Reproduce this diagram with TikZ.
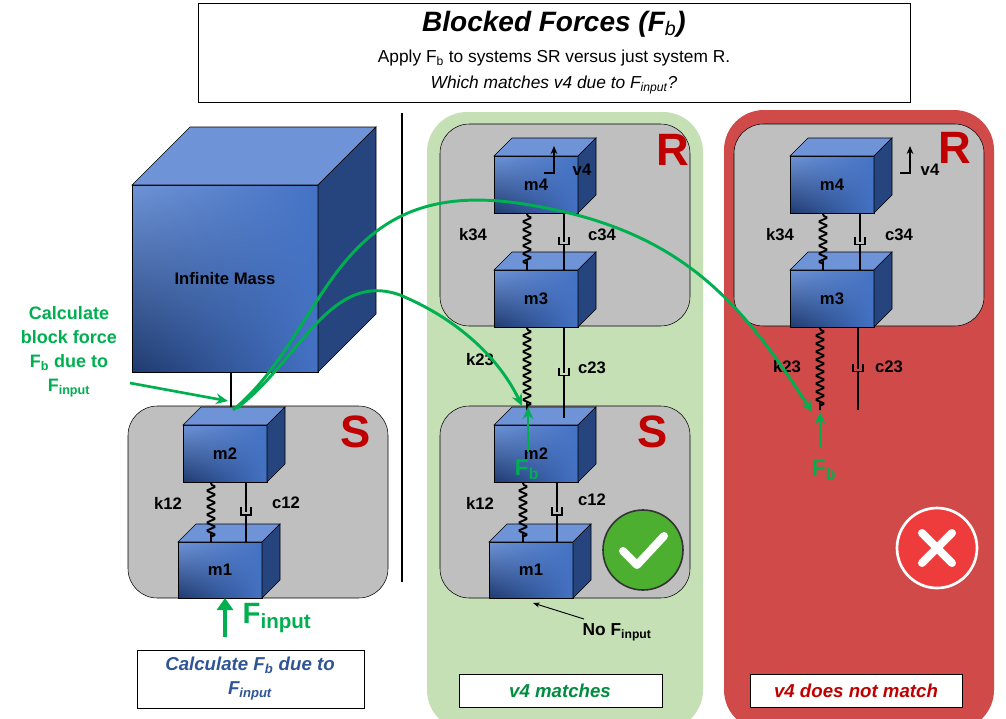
\documentclass[tikz,border=0pt]{standalone}
\usepackage{fontspec}
\setmainfont{Liberation Sans}
\usetikzlibrary{decorations.pathmorphing,arrows.meta,shadings}
\definecolor{gpanel}{HTML}{C5E0B4}
\definecolor{rpanel}{HTML}{D04A4A}
\definecolor{gbox}{HTML}{BFBFBF}
\definecolor{cb}{HTML}{4472C4}
\definecolor{cbl}{HTML}{6E93D6}
\definecolor{cbd}{HTML}{1F3A6E}
\definecolor{fg}{HTML}{00B050}
\definecolor{dred}{HTML}{C00000}
\definecolor{tblue}{HTML}{2F5597}
\definecolor{chk}{HTML}{4CAF30}
\definecolor{crs}{HTML}{EE3B3B}
\newcommand{\mycube}[7]{% name x y w h d label
  \shade[upper left=cbl,upper right=cb,lower left=cbd,lower right=cb] (#2,#3) rectangle ++(#4,#5);
  \draw[black] (#2,#3) rectangle ++(#4,#5);
  \draw[fill=cbl,draw=black] (#2,#3) -- ++(#6,-#6) -- ++(#4,0) -- ++(-#6,#6) -- cycle;
  \draw[fill=cbd!80!cb,draw=black] (#2+#4,#3) -- ++(#6,-#6) -- ++(0,#5) -- ++(-#6,#6) -- cycle;
  \node[lab] (#1) at (#2+#4/2,#3+#5/2) {#7};}
\newcommand{\spring}[3]{\draw[spr] (#1,#2) -- (#1,#3);}
\newcommand{\damper}[3]{%
  \pgfmathsetmacro{\mid}{(#2+#3)/2}
  \draw[line width=1.6pt] (#1,#2) -- (#1,\mid);
  \draw[line width=1.4pt] (#1-5,\mid-5) -- (#1-5,\mid+3) -- (#1+5,\mid+3) -- (#1+5,\mid-5);
  \draw[line width=1.6pt] (#1,\mid+3) -- (#1,#3);}
\begin{document}
\begin{tikzpicture}[x=0.75pt,y=-0.75pt,
  lab/.style={font=\bfseries\fontsize{12.5}{14}\selectfont},
  spr/.style={line width=1.4pt,decorate,decoration={zigzag,segment length=6pt,amplitude=3.5pt,pre length=2pt,post length=2pt},rounded corners=1pt},
  gbx/.style={fill=gbox,draw=black,rounded corners=22},
  big/.style={font=\bfseries\fontsize{34}{36}\selectfont,text=dred},
  garr/.style={fg,line width=2.2pt,-{Stealth[length=9pt,width=8pt]}},
  fb/.style={font=\bfseries\fontsize{17}{18}\selectfont,text=fg}]
\useasboundingbox (0,0) rectangle (1006,718);
\fill[white] (0,0) rectangle (1006,718);
% panels
\fill[gpanel,rounded corners=30] (427,112) rectangle (703,730);
\fill[rpanel,rounded corners=30] (724,110) rectangle (994,730);
% title
\draw[fill=white] (198,3) rectangle (910,102);
\node[font=\bfseries\itshape\fontsize{21}{24}\selectfont] (title) at (554,24) {Blocked Forces (F$_{\mathit{b}}$)};
\node[font=\fontsize{13}{15}\selectfont] (sub1) at (554,58) {Apply F\textsubscript{b} to systems SR versus just system R.};
\node[font=\itshape\fontsize{13}{15}\selectfont] (sub2) at (554,85) {Which matches v4 due to F\textsubscript{input}?};
% divider
\draw[line width=1.6pt] (402,113) -- (402,582);
% gray boxes
\draw[gbx] (128,406) rectangle (388,598);
\draw[gbx] (440,124) rectangle (690,326);
\draw[gbx] (440,406) rectangle (690,598);
\draw[gbx] (734,124) rectangle (984,326);
% infinite mass
\mycube{inf}{132}{185}{186}{187}{58}{Infinite Mass}
\draw[line width=1pt] (231,372) -- (231,407);
% left S
\mycube{m2a}{183}{425}{84}{57}{18}{m2}
\mycube{m1a}{178}{542}{84}{56}{18}{m1}
\spring{211}{482}{542}
\damper{246}{482}{542}
\node[lab] (k12a) at (168,503) {k12};
\node[lab] (c12a) at (286,503) {c12};
\node[big] (Sa) at (356,432) {S};
% middle R
\mycube{m4b}{494}{156}{84}{57}{18}{m4}
\mycube{m3b}{494}{270}{84}{57}{18}{m3}
\spring{527}{213}{270}
\damper{564}{213}{270}
\node[lab] (k34b) at (473,235) {k34};
\node[lab] (c34b) at (602,235) {c34};
\node[big] (Rb) at (673,150) {R};
\draw[line width=1.4pt,-{Stealth[length=6pt,width=5pt]}] (544,173) -- (554,173) -- (554,146);
\node[lab] (v4b) at (582,170) {v4};
% middle S
\mycube{m2b}{494}{425}{84}{57}{18}{m2}
\mycube{m1b}{489}{542}{84}{56}{18}{m1}
\spring{523}{482}{542}
\damper{557}{482}{542}
\node[lab] (k12b) at (480,503) {k12};
\node[lab] (c12b) at (592,500) {c12};
\node[big] (Sb) at (653,432) {S};
\spring{527}{327}{410}
\damper{564}{327}{418}
\node[lab] (k23b) at (480,360) {k23};
\node[lab] (c23b) at (592,368) {c23};
% right R
\mycube{m4c}{790}{156}{84}{57}{18}{m4}
\mycube{m3c}{790}{270}{84}{57}{18}{m3}
\spring{823}{213}{270}
\damper{860}{213}{270}
\node[lab] (k34c) at (780,235) {k34};
\node[lab] (c34c) at (899,235) {c34};
\node[big] (Rc) at (955,148) {R};
\draw[line width=1.4pt,-{Stealth[length=6pt,width=5pt]}] (900,173) -- (910,173) -- (910,146);
\node[lab] (v4c) at (930,170) {v4};
\spring{820}{327}{410}
\damper{858}{327}{410}
\node[lab] (k23c) at (787,367) {k23};
\node[lab] (c23c) at (889,367) {c23};
% green curves
\coordinate (src1) at (233,410);
\coordinate (src2) at (237,408);
\coordinate (dstR) at (812,412);
\coordinate (dstS) at (522,406);
\draw[garr] (src1) .. controls (330,330) and (330,170) .. (530,205) .. controls (680,230) and (740,300) .. (dstR);
\draw[garr] (src2) .. controls (300,360) and (330,270) .. (400,295) .. controls (460,320) and (500,360) .. (dstS);
% calc block force
\node[font=\bfseries\fontsize{13.5}{18}\selectfont,text=fg,align=center] (calc) at (69,352) {Calculate\\block force\\F\textsubscript{b} due to\\F\textsubscript{input}};
\coordinate (calcend) at (228,401);
\draw[garr,line width=2pt] (130,383) -- (calcend);
% Fb arrows
\coordinate (fb1s) at (528,452);
\coordinate (fb1e) at (528,407);
\draw[garr] (fb1s) -- (fb1e);
\node[fb] (fbl1) at (527,470) {F\textsubscript{b}};
\coordinate (fb2s) at (820,447);
\coordinate (fb2e) at (820,412);
\draw[garr] (fb2s) -- (fb2e);
\node[fb] (fbl2) at (824,470) {F\textsubscript{b}};
% Finput
\coordinate (fis) at (225,637);
\coordinate (fie) at (225,598);
\draw[fg,line width=3.5pt,-{Triangle[length=9pt,width=12pt]}] (fis) -- (fie);
\node[font=\bfseries\fontsize{22}{24}\selectfont,text=fg,anchor=west] (fin) at (238,618) {F\textsubscript{input}};
% No Finput
\node[font=\bfseries\fontsize{13}{15}\selectfont,anchor=west] (nof) at (578,632) {No F\textsubscript{input}};
\coordinate (nofe) at (533,603);
\draw[-{Stealth[length=5pt]},line width=0.7pt] (584,619) -- (nofe);
% check / cross
\draw[fill=chk,draw=black!80,line width=1.2pt] (643,550) circle (40);
\draw[white,line width=6pt,line cap=round,line join=round] (623,551) -- (637,565) -- (664,536);
\draw[white,fill=crs,line width=2pt] (937,548) circle (40);
\draw[white,line width=6pt,line cap=round] (922,533) -- (952,563) (952,533) -- (922,563);
% bottom boxes
\draw[fill=white] (137,650) rectangle (364,708);
\node[font=\bfseries\itshape\fontsize{14}{18}\selectfont,text=tblue,align=center] (calcb) at (250,679) {Calculate F\textsubscript{b} due to\\F\textsubscript{input}};
\draw[fill=white] (459,674) rectangle (662,707);
\node[font=\bfseries\itshape\fontsize{14}{16}\selectfont,text=fg!80!black] (v4m) at (560,691) {v4 matches};
\draw[fill=white] (750,674) rectangle (962,707);
\node[font=\bfseries\itshape\fontsize{14}{16}\selectfont,text=dred] (v4n) at (856,691) {v4 does not match};
\end{tikzpicture}
\end{document}
